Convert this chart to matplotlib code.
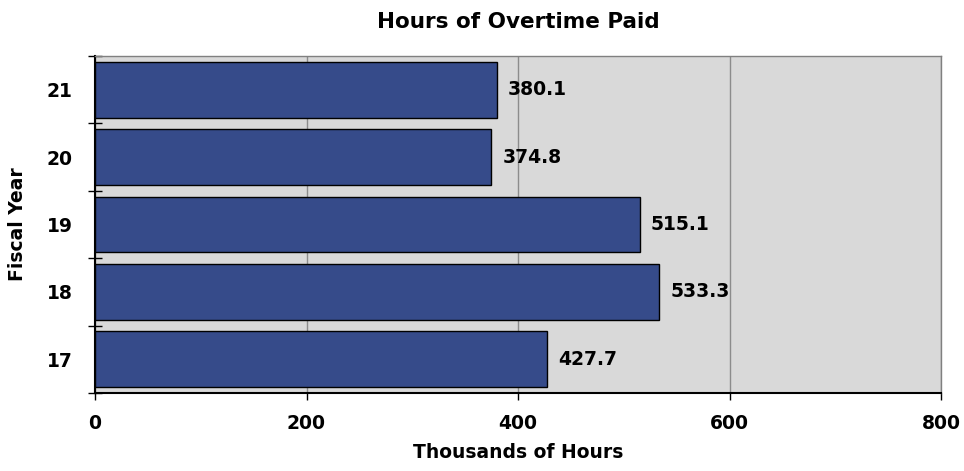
import matplotlib
matplotlib.use("Agg")
import matplotlib.pyplot as plt
import numpy as np

# data
years = ["17", "18", "19", "20", "21"]
hours = [427.7, 533.3, 515.1, 374.8, 380.1]
labels = ["427.7", "533.3", "515.1", "374.8", "380.1"]

plt.rcParams["font.family"] = ["DejaVu Sans"]
plt.rcParams["font.weight"] = "bold"

fig = plt.figure(figsize=(9.64, 4.71), dpi=100)
ax = fig.add_axes([95 / 964, 1 - 393 / 471, 846 / 964, 337 / 471])

ax.set_facecolor("#D9D9D9")
y = np.arange(len(years))
ax.barh(y, hours, height=0.83, color="#364B8A", edgecolor="black", linewidth=1.0, zorder=3)

for yi, v, lab in zip(y, hours, labels):
    ax.annotate(lab, (v, yi), xytext=(8, 0), textcoords="offset points",
                va="center", ha="left", fontsize=13.5, fontweight="bold")

ax.set_xlim(0, 800)
ax.set_ylim(-0.5, len(years) - 0.5)
ax.set_xticks([0, 200, 400, 600, 800])
ax.tick_params(axis="x", labelsize=13.5, length=5, width=1, pad=10)
ax.xaxis.grid(True, color="#8C8C8C", linewidth=1, zorder=1)

ax.set_yticks(y)
ax.set_yticklabels(years, fontsize=13.5, fontweight="bold")
ax.tick_params(axis="y", length=0, pad=16)
# tick marks between categories
ax.set_yticks(np.arange(-0.5, len(years)), minor=True)
ax.tick_params(axis="y", which="minor", direction="inout", length=10, width=1)

for s in ["left", "bottom"]:
    ax.spines[s].set_color("black")
    ax.spines[s].set_linewidth(1.5)
for s in ["top", "right"]:
    ax.spines[s].set_color("#808080")
    ax.spines[s].set_linewidth(1)

ax.set_title("Hours of Overtime Paid", fontsize=15.5, fontweight="bold", pad=20)
ax.set_xlabel("Thousands of Hours", fontsize=13.5, fontweight="bold", labelpad=7)
ax.set_ylabel("Fiscal Year", fontsize=13.5, fontweight="bold", labelpad=14)

fig.savefig("out.png", dpi=100)
